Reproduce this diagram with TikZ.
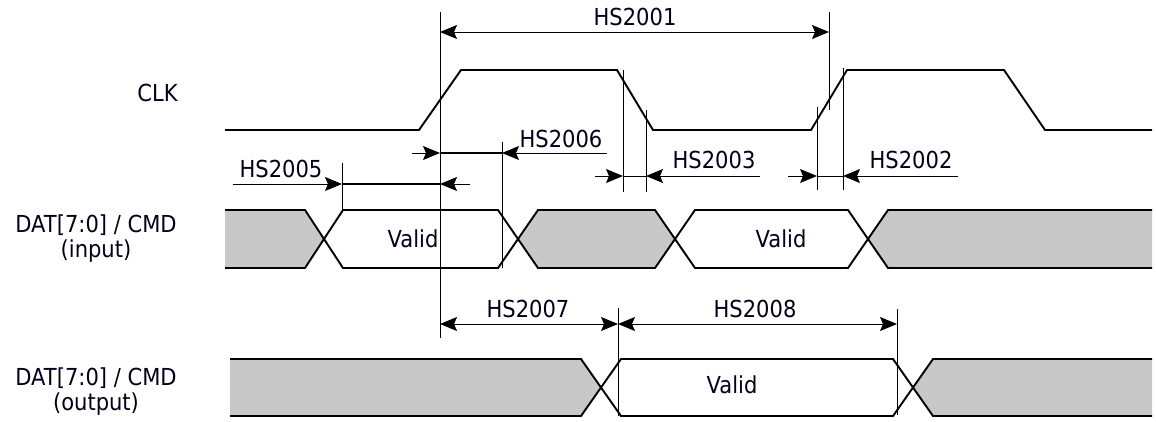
\documentclass[tikz,border=0pt]{standalone}
\usepackage{fontspec}
\setmainfont{DejaVu Sans}[FakeStretch=0.9]
\usetikzlibrary{arrows.meta}
\begin{document}
\begin{tikzpicture}[x=1pt,y=-1pt,
  sig/.style={line width=1.9pt, line join=miter},
  dim/.style={line width=1pt},
  thickdim/.style={line width=2pt},
  refl/.style={line width=1pt},
  bus/.style={fill=busgray, draw=none},
  lbl/.style={font=\fontsize{23.4}{28}\selectfont, inner sep=0pt, anchor=base, text=black!90!blue},
  >={Stealth[length=17pt,width=14pt,inset=3pt]}]
\definecolor{busgray}{RGB}{200,200,200}
\useasboundingbox (0,0) rectangle (1156,421);

% ---- signal labels
\node[lbl] (clklbl) at (157.5,101) {CLK};
\node[lbl] (inlbla) at (96,232) {DAT[7:0] / CMD};
\node[lbl] (inlblb) at (96,257) {(input)};
\node[lbl] (outlbla) at (96,385) {DAT[7:0] / CMD};
\node[lbl] (outlblb) at (96,410) {(output)};

% ---- bus fills
\path[bus] (225,210)--(305,210)--(324,239)--(305,268)--(225,268)--cycle;
\path[bus] (538,210)--(655,210)--(675,239)--(655,268)--(538,268)--(518,239)--cycle;
\path[bus] (888,210)--(1152,210)--(1152,268)--(888,268)--(868,239)--cycle;
\path[bus] (230,359)--(581,359)--(601,387.5)--(581,416)--(230,416)--cycle;
\path[bus] (933,359)--(1152,359)--(1152,416)--(933,416)--(913,387.5)--cycle;

% ---- CLK
\draw[sig] (225,130)--(419,130)--(461,70)--(617,70)--(653,130)--(811,130)--(847,70)--(1004,70)--(1045,130)--(1152,130);

% ---- input bus
\draw[sig] (225,210)--(305,210)--(343,268)--(498,268)--(538,210)--(655,210)--(695,268)--(848,268)--(888,210)--(1152,210);
\draw[sig] (225,268)--(305,268)--(343,210)--(498,210)--(538,268)--(655,268)--(695,210)--(848,210)--(888,268)--(1152,268);

% ---- output bus
\draw[sig] (230,359)--(581,359)--(621,416)--(893,416)--(933,359)--(1152,359);
\draw[sig] (230,416)--(581,416)--(621,359)--(893,359)--(933,416)--(1152,416);

% ---- reference lines
\coordinate (v1t) at (440,12);  \coordinate (v1b) at (440,338);
\coordinate (v2t) at (829,12);  \coordinate (v2b) at (829,110);
\coordinate (v3t) at (502,142); \coordinate (v3b) at (502,268);
\coordinate (v4t) at (342,163); \coordinate (v4b) at (342,210);
\coordinate (v5t) at (623,70);  \coordinate (v5b) at (623,192);
\coordinate (v6t) at (646,110); \coordinate (v6b) at (646,192);
\coordinate (v7t) at (817,107); \coordinate (v7b) at (817,190);
\coordinate (v8t) at (843,68);  \coordinate (v8b) at (843,190);
\coordinate (v9t) at (618,308); \coordinate (v9b) at (618,416);
\coordinate (v10t) at (897,309); \coordinate (v10b) at (897,415);
\foreach \v in {1,...,10} \draw[refl] (v\v t) -- (v\v b);

% ---- HS2001
\coordinate (a1l) at (440,32); \coordinate (a1r) at (829,32);
\draw[dim,<->] (a1l) -- (a1r);
\node[lbl] (t2001) at (635,25) {HS2001};

% ---- HS2006
\coordinate (a6s) at (412,153); \coordinate (a6a) at (440,153);
\coordinate (a6b) at (502,153); \coordinate (a6e) at (607,153);
\draw[dim,->] (a6s) -- (a6a);
\draw[thickdim] (a6a) -- (a6b);
\draw[dim,->] (a6e) -- (a6b);
\node[lbl] (t2006) at (561,147) {HS2006};

% ---- HS2005
\coordinate (a5s) at (233,184); \coordinate (a5a) at (342,184);
\coordinate (a5b) at (440,184); \coordinate (a5e) at (470,184);
\draw[dim,->] (a5s) -- (a5a);
\draw[thickdim] (a5a) -- (a5b);
\draw[dim,->] (a5e) -- (a5b);
\node[lbl] (t2005) at (281,177) {HS2005};

% ---- HS2003
\coordinate (a3s) at (595,176); \coordinate (a3a) at (623,176);
\coordinate (a3b) at (646,176); \coordinate (a3e) at (760,176);
\draw[dim,->] (a3s) -- (a3a);
\draw[dim] (a3a) -- (a3b);
\draw[dim,->] (a3e) -- (a3b);
\node[lbl] (t2003) at (714,168) {HS2003};

% ---- HS2002
\coordinate (a2s) at (788,176); \coordinate (a2a) at (817,176);
\coordinate (a2b) at (843,176); \coordinate (a2e) at (958,176);
\draw[dim,->] (a2s) -- (a2a);
\draw[dim] (a2a) -- (a2b);
\draw[dim,->] (a2e) -- (a2b);
\node[lbl] (t2002) at (911,168) {HS2002};

% ---- HS2007 / HS2008
\coordinate (a7l) at (440,324); \coordinate (a7r) at (618,324);
\coordinate (a8r) at (897,324);
\draw[dim,<->] (a7l) -- (a7r);
\draw[dim,<->] (a7r) -- (a8r);
\node[lbl] (t2007) at (528,317) {HS2007};
\node[lbl] (t2008) at (755,317) {HS2008};

% ---- Valid labels
\node[lbl] (val1) at (413,247) {Valid};
\node[lbl] (val2) at (781,247) {Valid};
\node[lbl] (val3) at (732,393) {Valid};
\end{tikzpicture}
\end{document}
